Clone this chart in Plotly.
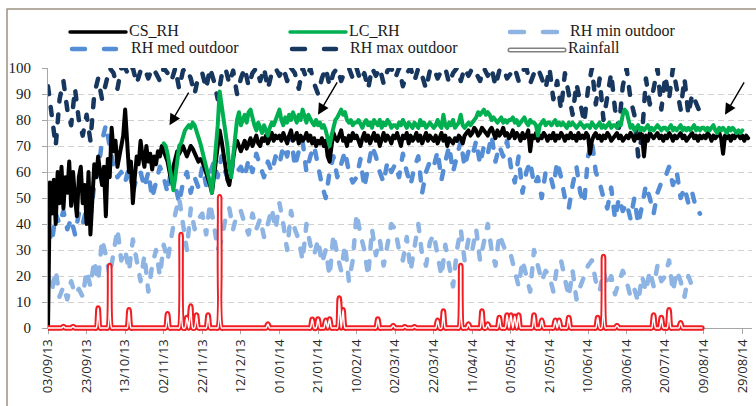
import plotly.graph_objects as go
import pandas as pd

START = "2013-09-03"
LC_START = "2013-11-02"

# CS_RH, daily from 03/09/13
cs_rh = [
    0, 56, 44, 57, 40, 60, 48, 62, 46, 58, 52, 64, 47, 60, 50, 43, 58, 62, 48, 55,
    40, 60, 36, 52, 63, 58, 66, 60, 55, 62, 43, 65, 58, 77, 68, 72, 62, 66, 70, 74,
    84, 68, 60, 64, 48, 58, 66, 63, 72, 66, 62, 70, 64, 67, 61, 66, 63, 68, 66, 70,
    68, 66, 64, 60, 56, 62, 66, 68, 67, 69, 70, 68, 66, 68, 70, 69, 67, 66, 64, 65,
    64, 62, 60, 58, 55, 52, 58, 64, 70, 76, 72, 66, 62, 57, 55, 60, 66, 70, 72, 70,
    68, 70, 72, 69, 71, 73, 70, 72, 74, 71, 70, 73, 72, 74, 71, 73, 75, 72, 74, 73,
    74, 72, 75, 73, 71, 74, 76, 72, 73, 75, 71, 74, 72, 73, 75, 72, 74, 71, 73, 70,
    72, 71, 73, 70, 72, 66, 64, 70, 75, 73, 72, 74, 76, 72, 73, 70, 74, 72, 75, 73,
    74, 72, 70, 73, 75, 72, 74, 71, 73, 75, 72, 74, 70, 73, 75, 72, 74, 73, 71, 74,
    73, 75, 72, 70, 74, 73, 75, 71, 74, 72, 73, 75, 72, 74, 71, 73, 75, 72, 74, 73,
    72, 74, 71, 73, 75, 72, 74, 70, 73, 72, 71, 73, 72, 74, 73, 71, 74, 75, 76, 74,
    75, 77, 76, 74, 75, 77, 76, 75, 74, 76, 77, 75, 73, 76, 74, 75, 77, 74, 75, 73,
    74, 76, 73, 75, 74, 72, 75, 73, 74, 76, 68, 74, 73, 75, 72, 74, 73, 75, 74, 72,
    74, 73, 75, 72, 74, 73, 75, 74, 72, 74, 73, 75, 73, 74, 72, 75, 73, 74, 73, 75,
    74, 67, 72, 74, 75, 73, 74, 72, 74, 73, 75, 74, 72, 73, 74, 75, 73, 74, 72, 73,
    74, 73, 75, 74, 72, 74, 73, 75, 74, 66, 74, 72, 75, 74, 73, 74, 75, 73, 74, 72,
    74, 73, 75, 74, 72, 74, 73, 74, 75, 73, 74, 72, 73, 74, 75, 73, 74, 72, 74, 73,
    74, 73, 75, 74, 72, 74, 73, 74, 75, 73, 67, 74, 73, 74, 72, 74, 73, 75, 74, 73,
    74, 72, 74, 73,
]

# LC_RH, daily from 02/11/13
lc_rh = [
    71, 70, 67, 62, 56, 53, 58, 66, 70, 71, 74, 76, 77, 78, 77, 79, 78, 76, 74, 71,
    68, 65, 63, 60, 56, 52, 60, 68, 78, 91, 86, 80, 76, 70, 62, 58, 66, 74, 80, 83,
    78, 80, 82, 79, 83, 84, 80, 78, 76, 79, 77, 75, 78, 76, 74, 77, 79, 78, 80, 82,
    84, 80, 78, 81, 79, 82, 80, 83, 81, 79, 82, 80, 84, 81, 79, 82, 80, 79, 78, 80,
    78, 79, 77, 78, 76, 73, 70, 74, 78, 80, 81, 83, 84, 82, 83, 80, 79, 80, 78, 79,
    79, 80, 78, 77, 79, 80, 78, 79, 77, 80, 79, 78, 80, 77, 79, 78, 80, 79, 77, 78,
    78, 77, 79, 78, 80, 78, 77, 79, 78, 77, 79, 78, 77, 80, 78, 79, 77, 78, 79, 78,
    77, 78, 80, 78, 77, 82, 78, 77, 79, 78, 80, 77, 78, 79, 82, 78, 77, 78, 79, 78,
    79, 80, 81, 83, 82, 83, 84, 82, 83, 82, 80, 81, 80, 79, 80, 81, 79, 80, 79, 80,
    80, 81, 79, 80, 78, 79, 80, 81, 79, 78, 80, 79, 79, 78, 74, 78, 79, 80, 78, 79,
    79, 78, 79, 80, 78, 79, 78, 79, 78, 77, 79, 78, 79, 78, 77, 78, 79, 78, 77, 78,
    78, 77, 79, 78, 77, 78, 79, 77, 78, 77, 78, 79, 77, 78, 78, 77, 79, 78, 82, 84,
    83, 79, 77, 78, 76, 77, 78, 76, 77, 76, 77, 78, 76, 77, 76, 77, 78, 77, 76, 77,
    77, 76, 77, 78, 76, 77, 76, 77, 78, 76, 77, 76, 77, 76, 77, 78, 76, 77, 76, 77,
    77, 76, 77, 76, 77, 78, 76, 75, 77, 76, 77, 76, 75, 77, 76, 77, 76, 75, 76, 75, 76,
]

# Outdoor RH, every 2 days from 03/09/13
rh_min = [
    20, 14, 22, 12, 16, 11, 18, 13, 15, 12,
    22, 16, 26, 18, 34, 28, 20, 30, 38, 26,
    30, 22, 34, 26, 18, 28, 14, 24, 30, 20,
    32, 26, 36, 44, 50, 40, 30, 46, 38, 42,
    44, 36, 48, 40, 30, 34, 42, 46, 38, 44,
    45, 40, 36, 44, 38, 42, 35, 40, 46, 38,
    48, 40, 30, 45, 38, 34, 26, 40, 32, 28,
    34, 25, 30, 20, 36, 28, 22, 32, 18, 26,
    44, 36, 30, 20, 38, 28, 34, 24, 32, 40,
    38, 30, 26, 35, 22, 30, 40, 28, 24, 33,
    36, 28, 20, 32, 24, 16, 30, 38, 26, 34,
    30, 38, 26, 34, 40, 30, 24, 36, 32, 28,
    28, 22, 16, 26, 20, 14, 30, 24, 18, 22,
    20, 14, 24, 26, 18, 12, 22, 11, 16, 20,
    24, 26, 18, 14, 22, 16, 20, 13, 17, 22,
    18, 12, 15, 10, 20, 14, 22, 16, 24, 18,
    20, 26, 14, 22, 18, 12, 20, 16, 14,
]
rh_med = [
    38, 33, 44, 40, 45, 38, 42, 36, 44, 40,
    46, 43, 55, 60, 72, 78, 70, 62, 58, 60,
    56, 62, 52, 58, 60, 54, 60, 50, 56, 62,
    58, 52, 62, 55, 48, 56, 60, 52, 58, 54,
    62, 55, 60, 64, 58, 66, 60, 56, 63, 60,
    62, 58, 65, 60, 67, 62, 58, 64, 60, 66,
    63, 70, 66, 74, 62, 68, 72, 60, 66, 70,
    62, 55, 50, 60, 66, 58, 63, 68, 60, 56,
    58, 65, 54, 62, 70, 66, 60, 56, 64, 60,
    63, 58, 67, 60, 55, 62, 66, 52, 60, 64,
    62, 68, 57, 64, 70, 60, 66, 72, 62, 68,
    66, 72, 63, 70, 67, 74, 64, 70, 66, 72,
    62, 56, 66, 52, 60, 64, 55, 58, 50, 60,
    60, 54, 64, 58, 50, 46, 55, 62, 52, 48,
    66, 72, 60, 56, 50, 46, 54, 42, 50, 45,
    48, 42, 50, 40, 47, 55, 50, 44, 52, 56,
    58, 62, 55, 60, 50, 54, 48, 52, 46, 44,
]
rh_max = [
    93, 80, 70, 88, 95, 84, 78, 92, 80, 74,
    82, 72, 90, 96, 88, 94, 100, 98, 92, 100,
    100, 97, 100, 94, 99, 100, 96, 100, 98, 95,
    100, 98, 95, 100, 92, 99, 100, 96, 90, 97,
    98, 92, 100, 95, 88, 97, 100, 94, 99, 90,
    96, 100, 93, 98, 100, 95, 100, 92, 98, 100,
    97, 100, 95, 100, 98, 92, 100, 96, 100, 94,
    90, 96, 100, 93, 98, 100, 95, 99, 100, 96,
    100, 95, 98, 92, 100, 97, 100, 94, 99, 100,
    96, 100, 93, 98, 100, 95, 100, 97, 92, 99,
    100, 96, 99, 100, 94, 98, 100, 95, 100, 97,
    100, 98, 95, 100, 97, 100, 93, 99, 100, 96,
    98, 100, 95, 99, 100, 94, 98, 100, 96, 92,
    100, 88, 95, 84, 98, 90, 82, 94, 86, 79,
    92, 100, 86, 96, 80, 90, 98, 84, 77, 93,
    100, 88, 82, 66, 74, 96, 86, 92, 100, 84,
    97, 88, 100, 92, 84, 96, 82, 90, 86, 83,
]

RAIN_END = "2014-08-08"
rain_dates = [
    "2013-09-11", "2013-09-16", "2013-09-29", "2013-10-05", "2013-10-15",
    "2013-11-04", "2013-11-11", "2013-11-14", "2013-11-16", "2013-11-19",
    "2013-11-25", "2013-12-01", "2013-12-26", "2014-01-18", "2014-01-21",
    "2014-01-25", "2014-01-27", "2014-02-01", "2014-02-03", "2014-02-21",
    "2014-03-01", "2014-03-07", "2014-03-12", "2014-03-24", "2014-03-27",
    "2014-04-05", "2014-04-09", "2014-04-16", "2014-04-19", "2014-04-25",
    "2014-04-29", "2014-05-01", "2014-05-03", "2014-05-05", "2014-05-13",
    "2014-05-17", "2014-05-24", "2014-05-26", "2014-05-31", "2014-06-15",
    "2014-06-18", "2014-06-25", "2014-07-14", "2014-07-18", "2014-07-22",
    "2014-07-28",
]
rain_mm = [
    0.6, 0.6, 7.7, 24, 7,
    5.5, 36, 4, 8.5, 5,
    5, 50.5, 1.5, 3.4, 3.5,
    3, 3.5, 11.5, 7, 3.5,
    1, 0.5, 0.5, 3, 6.5,
    24, 1.5, 6.5, 1.5, 4,
    5, 5, 4.5, 5, 5,
    3, 3, 3, 4, 4,
    27.5, 1, 5, 4, 7,
    2,
]

tick_labels = [
    "03/09/13", "23/09/13", "13/10/13", "02/11/13", "22/11/13", "12/12/13",
    "01/01/14", "21/01/14", "10/02/14", "02/03/14", "22/03/14", "11/04/14",
    "01/05/14", "21/05/14", "10/06/14", "30/06/14", "20/07/14", "09/08/14",
    "29/08/14",
]

# ---- build
cs_x = pd.date_range(START, periods=len(cs_rh), freq="D")
lc_x = pd.date_range(LC_START, periods=len(lc_rh), freq="D")
min_x = pd.date_range(START, periods=len(rh_min), freq="2D")
med_x = pd.date_range(START, periods=len(rh_med), freq="2D")
max_x = pd.date_range(START, periods=len(rh_max), freq="2D")
rain = pd.Series(0.0, index=pd.date_range(START, RAIN_END, freq="D"))
rain[pd.to_datetime(rain_dates)] = rain_mm
tickvals = pd.to_datetime(tick_labels, format="%d/%m/%y")
X_RANGE = ["2013-09-03", "2014-09-03"]

C_CS = "#000000"
C_LC = "#00B050"
C_MIN = "#8EB4E3"
C_MED = "#558ED5"
C_MAX = "#17375E"
C_RAIN = "#F01E23"
DASH = "8px,13px"

# pixel geometry: main axes 68..328, an extra 6 px strip below for the
# rainfall baseline (Excel draws it unclipped over the axis line)
L, R, T, B = 48, 752, 68, 328
EXTRA = 6
W, H = R - L, B - T
HP = H + EXTRA  # paper height in px
Y2_MIN = -EXTRA * 100.0 / H

fig = go.Figure()
fig.add_trace(go.Scatter(x=max_x, y=rh_max, mode="lines", name="RH max outdoor",
                         line=dict(color=C_MAX, width=4.5, dash=DASH)))
fig.add_trace(go.Scatter(x=med_x, y=rh_med, mode="lines", name="RH med outdoor",
                         line=dict(color=C_MED, width=4.5, dash=DASH)))
fig.add_trace(go.Scatter(x=min_x, y=rh_min, mode="lines", name="RH min outdoor",
                         line=dict(color=C_MIN, width=4.5, dash=DASH)))
fig.add_trace(go.Scatter(x=cs_x, y=cs_rh, mode="lines", name="CS_RH",
                         line=dict(color=C_CS, width=4)))
fig.add_trace(go.Scatter(x=lc_x, y=lc_rh, mode="lines", name="LC_RH",
                         line=dict(color=C_LC, width=4)))
fig.add_trace(go.Scatter(x=rain.index, y=rain.values, mode="lines", name="Rainfall",
                         xaxis="x2", yaxis="y2",
                         line=dict(color=C_RAIN, width=5.5, shape="spline", smoothing=0.8)))
fig.add_trace(go.Scatter(x=rain.index, y=rain.values, mode="lines", showlegend=False,
                         xaxis="x2", yaxis="y2",
                         line=dict(color="#FFFFFF", width=1.5, shape="spline", smoothing=0.8)))


def px(p):
    return (p - L) / W


def py(q):
    return (B + EXTRA - q) / HP


shapes = []
annos = []
FONT_SERIF = "Liberation Serif, Times New Roman, serif"
TXT = "#1a1a1a"

# outer frame
shapes.append(dict(type="rect", xref="paper", yref="paper", x0=px(7), x1=px(790),
                   y0=py(9), y1=py(440), line=dict(color="#9C9180", width=1.5)))


def leg_line(x0, x1, y, color, width, dash=None):
    shapes.append(dict(type="line", xref="paper", yref="paper", x0=px(x0), x1=px(x1),
                       y0=py(y), y1=py(y), line=dict(color=color, width=width, dash=dash or "solid")))


def leg_text(x, y, text):
    annos.append(dict(xref="paper", yref="paper", x=px(x), y=py(y), text=text, showarrow=False,
                      xanchor="left", yanchor="middle", font=dict(family=FONT_SERIF, size=16, color=TXT)))


# row 1
leg_line(70, 126, 32, C_CS, 3.5)
leg_text(127, 31, "CS_RH")
leg_line(290, 346, 32, C_LC, 3.5)
leg_text(347, 31, "LC_RH")
leg_line(510, 524, 32, C_MIN, 4.5)
leg_line(543, 557, 32, C_MIN, 4.5)
leg_text(568, 31, "RH min outdoor")
# row 2
leg_line(72, 85, 49, C_MED, 4.5)
leg_line(104, 116, 49, C_MED, 4.5)
leg_text(129, 48, "RH med outdoor")
leg_line(292, 305, 49, C_MAX, 4.5)
leg_line(324, 336, 49, C_MAX, 4.5)
leg_text(348, 48, "RH max outdoor")
leg_line(510, 564, 50, "#808080", 5)
leg_line(510, 564, 50, "#FFFFFF", 2)
leg_text(566, 48, "Rainfall")

# arrows
for tip_date, tip_val in [("2013-11-05", 78), ("2014-01-21", 82), ("2014-08-20", 82)]:
    annos.append(dict(x=tip_date, y=tip_val, xref="x", yref="y", ax=20, ay=-34,
                      showarrow=True, arrowhead=2, arrowsize=1.6, arrowwidth=1.4,
                      arrowcolor="#000000", text=""))

fig.update_layout(
    width=756, height=406,
    margin=dict(l=L, r=756 - R, t=T, b=406 - B - EXTRA),
    paper_bgcolor="white", plot_bgcolor="rgba(0,0,0,0)",
    showlegend=False,
    shapes=shapes, annotations=annos,
    xaxis=dict(
        type="date", range=X_RANGE, anchor="y",
        tickvals=tickvals, ticktext=tick_labels, tickangle=-90,
        tickfont=dict(family="Open Sans, Lato, sans-serif", size=13, color="#262626"),
        showgrid=False, showline=True, linecolor="#A6A6A6", linewidth=1,
        ticks="outside", ticklen=5, tickcolor="#A6A6A6", zeroline=False,
    ),
    yaxis=dict(
        domain=[EXTRA / HP, 1], anchor="x",
        range=[0, 100], tickvals=list(range(0, 101, 10)),
        tickfont=dict(family=FONT_SERIF, size=15, color="#1a1a1a"),
        showgrid=True, gridcolor="#D0D0D0", griddash="6px,4px", gridwidth=1,
        showline=True, linecolor="#A6A6A6", linewidth=1,
        ticks="outside", ticklen=5, tickcolor="#A6A6A6", ticklabelstandoff=8,
        zeroline=False,
    ),
    xaxis2=dict(type="date", range=X_RANGE, anchor="y2", visible=False, showgrid=False),
    yaxis2=dict(domain=[0, 1], anchor="x2", range=[Y2_MIN, 100], visible=False,
                showgrid=False, zeroline=False),
)

# rounded caps on line strokes, as in the reference
post = """
var s = document.createElement('style');
s.textContent = '.scatterlayer .js-line, .shapelayer path { stroke-linecap: round; stroke-linejoin: round; }';
document.head.appendChild(s);
"""
fig.write_html("out.html", post_script=post)
